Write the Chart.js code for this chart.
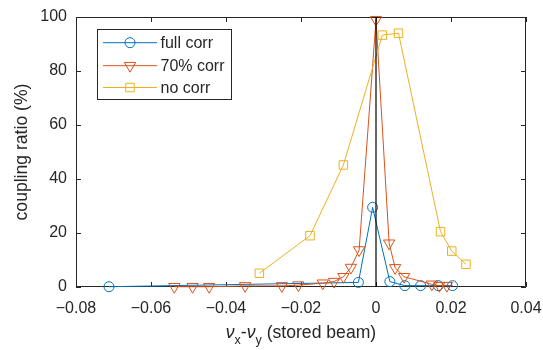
<!DOCTYPE html>
<html>
<head>
<meta charset="utf-8">
<script src="https://cdn.jsdelivr.net/npm/chart.js@4"></script>
<style>
html,body{margin:0;padding:0;background:#fff;}
#wrap{width:543px;height:350px;position:relative;}
</style>
</head>
<body>
<div id="wrap"><canvas id="c" width="543" height="350"></canvas></div>
<script>
// ---- data ----
const seriesNames = ['full corr', '70% corr', 'no corr'];
const fullX = [-0.0712, -0.0047, -0.0009, 0.0037, 0.0077, 0.0119, 0.0166, 0.0204];
const fullY = [0.1, 1.7, 29.5, 2.0, 0.5, 0.5, 0.5, 0.5];
const corr70X = [-0.0538, -0.0489, -0.0445, -0.0349, -0.0251, -0.0207, -0.0142, -0.0112, -0.0087, -0.0067, -0.0045, 0.0, 0.0035, 0.0051, 0.0075, 0.0149, 0.0169, 0.0189];
const corr70Y = [0.1, 0.1, 0.1, 0.4, 0.4, 0.7, 1.4, 2.0, 3.8, 7.2, 13.7, 99, 16.2, 7.1, 3.8, 1.0, 0.5, 0.5];
const noCorrX = [-0.0311, -0.0176, -0.0087, 0.0017, 0.0060, 0.0172, 0.0202, 0.0240];
const noCorrY = [5.1, 19.0, 45.2, 93.3, 94.0, 20.5, 13.3, 8.4];
const zeroLineX = [0, 0];
const zeroLineY = [0, 100];
const xTickValues = [-0.08, -0.06, -0.04, -0.02, 0, 0.02, 0.04];
const xTickLabels = ['\u22120.08', '\u22120.06', '\u22120.04', '\u22120.02', '0', '0.02', '0.04'];
const yTickValues = [0, 20, 40, 60, 80, 100];
const yTickLabels = ['0', '20', '40', '60', '80', '100'];
const yTitle = 'coupling ratio (%)';

const toPts = (xs, ys) => xs.map((x, i) => ({x: x, y: ys[i]}));
const FONT = '"Liberation Sans", Arial, Helvetica, sans-serif';
const AX = '#262626';
const BLUE = '#0072BD', RED = '#D95319', YEL = '#EDB120';

const frame = {
  id: 'frame',
  beforeDatasetsDraw(chart) {
    const {ctx, chartArea: a, scales: {x, y}} = chart;
    ctx.save();
    ctx.strokeStyle = AX;
    ctx.lineWidth = 1;
    ctx.beginPath();
    ctx.rect(Math.round(a.left) + 0.5, Math.round(a.top) + 0.5, Math.round(a.right - a.left) - 1, Math.round(a.bottom - a.top) - 1);
    ctx.stroke();
    const tl = 5;
    ctx.beginPath();
    xTickValues.forEach(v => {
      const px = Math.round(x.getPixelForValue(v)) + 0.5;
      ctx.moveTo(px, a.bottom); ctx.lineTo(px, a.bottom - tl);
      ctx.moveTo(px, a.top); ctx.lineTo(px, a.top + tl);
    });
    yTickValues.forEach(v => {
      const py = Math.round(y.getPixelForValue(v)) + 0.5;
      ctx.moveTo(a.left, py); ctx.lineTo(a.left + tl, py);
      ctx.moveTo(a.right, py); ctx.lineTo(a.right - tl, py);
    });
    ctx.stroke();
    ctx.restore();
  },
  afterDraw(chart) {
    const {ctx, chartArea: a} = chart;
    ctx.save();
    // x title with subscripts
    const big = '17.6px ' + FONT, bigI = 'italic 17.6px ' + FONT, small = '12.5px ' + FONT;
    const parts = [
      {t: '\u03BD', f: bigI, dy: 0},
      {t: 'x', f: small, dy: 6},
      {t: '-', f: big, dy: 0},
      {t: '\u03BD', f: bigI, dy: 0},
      {t: 'y', f: small, dy: 6},
      {t: ' (stored beam)', f: big, dy: 0}
    ];
    let w = 0;
    parts.forEach(p => { ctx.font = p.f; p.w = ctx.measureText(p.t).width; w += p.w; });
    let cx = (a.left + a.right) / 2 - w / 2;
    const by = 338;
    ctx.fillStyle = AX;
    ctx.textBaseline = 'alphabetic';
    ctx.textAlign = 'left';
    parts.forEach(p => { ctx.font = p.f; ctx.fillText(p.t, cx, by + p.dy); cx += p.w; });
    // y title
    ctx.translate(22, (a.top + a.bottom) / 2);
    ctx.rotate(-Math.PI / 2);
    ctx.font = big;
    ctx.textAlign = 'center';
    ctx.textBaseline = 'middle';
    ctx.fillText(yTitle, 0, 0);
    ctx.restore();

    // legend
    ctx.save();
    const L = 97.5, T = 29.5, R = 231.5, B = 99.5;
    ctx.fillStyle = '#fff';
    ctx.fillRect(L, T, R - L, B - T);
    ctx.strokeStyle = AX;
    ctx.lineWidth = 1;
    ctx.strokeRect(L, T, R - L, B - T);
    const rows = [42.7, 65.7, 87.5];
    chart.data.datasets.slice(0, 3).forEach((ds, i) => {
      const yy = rows[i];
      ctx.strokeStyle = ds.borderColor;
      ctx.lineWidth = 1;
      ctx.beginPath(); ctx.moveTo(103, yy); ctx.lineTo(157, yy); ctx.stroke();
      ctx.fillStyle = 'rgba(0,0,0,0)';
      Chart.helpers.drawPoint(ctx, {
        pointStyle: ds.pointStyle, rotation: ds.pointRotation || 0,
        radius: ds.pointRadius, borderWidth: 1
      }, 130, yy);
      ctx.fillStyle = AX;
      ctx.font = '16px ' + FONT;
      ctx.textAlign = 'left';
      ctx.textBaseline = 'middle';
      ctx.fillText(ds.label, 160.5, yy + 1);
    });
    ctx.restore();
  }
};

new Chart(document.getElementById('c'), {
  type: 'scatter',
  data: {
    datasets: [
      {label: seriesNames[0], data: toPts(fullX, fullY), showLine: true, borderColor: BLUE, backgroundColor: 'rgba(0,0,0,0)',
       borderWidth: 1, pointStyle: 'circle', pointRadius: 5, pointBorderWidth: 1, pointBorderColor: BLUE, pointBackgroundColor: 'rgba(0,0,0,0)', order: 3, clip: false},
      {label: seriesNames[1], data: toPts(corr70X, corr70Y), showLine: true, borderColor: RED, backgroundColor: 'rgba(0,0,0,0)',
       borderWidth: 1, pointStyle: 'triangle', pointRotation: 180, pointRadius: 6.5, pointBorderWidth: 1, pointBorderColor: RED, pointBackgroundColor: 'rgba(0,0,0,0)', order: 2, clip: false},
      {label: seriesNames[2], data: toPts(noCorrX, noCorrY), showLine: true, borderColor: YEL, backgroundColor: 'rgba(0,0,0,0)',
       borderWidth: 1, pointStyle: 'rect', pointRadius: 6, pointBorderWidth: 1, pointBorderColor: YEL, pointBackgroundColor: 'rgba(0,0,0,0)', order: 1, clip: false},
      {label: 'zero', data: toPts(zeroLineX, zeroLineY), showLine: true, borderColor: '#000', borderWidth: 1.2,
       pointRadius: 0, order: 0, clip: false}
    ]
  },
  options: {
    responsive: false,
    animation: false,
    devicePixelRatio: 1,
    layout: {padding: {top: 17, right: 17, left: 0, bottom: 0}},
    plugins: {legend: {display: false}, tooltip: {enabled: false}},
    elements: {line: {tension: 0}},
    scales: {
      x: {
        type: 'linear', min: -0.08, max: 0.04,
        grid: {display: false, drawTicks: false},
        border: {display: false},
        afterBuildTicks: s => { s.ticks = xTickValues.map(v => ({value: v})); },
        afterFit: s => { s.height = 63; s.paddingLeft = 0; s.paddingRight = 0; },
        ticks: {
          font: {family: FONT, size: 16}, color: AX, padding: 12, maxRotation: 0, autoSkip: false,
          callback: v => { const i = xTickValues.findIndex(t => Math.abs(t - v) < 1e-9); return i >= 0 ? xTickLabels[i] : ''; }
        }
      },
      y: {
        type: 'linear', min: 0, max: 100,
        grid: {display: false, drawTicks: false},
        border: {display: false},
        afterBuildTicks: s => { s.ticks = yTickValues.map(v => ({value: v})); },
        afterFit: s => { s.width = 76; s.paddingTop = 0; s.paddingBottom = 0; },
        ticks: {
          font: {family: FONT, size: 16}, color: AX, padding: 9, autoSkip: false,
          callback: v => { const i = yTickValues.indexOf(v); return i >= 0 ? yTickLabels[i] : ''; }
        }
      }
    }
  },
  plugins: [frame]
});
</script>
</body>
</html>
